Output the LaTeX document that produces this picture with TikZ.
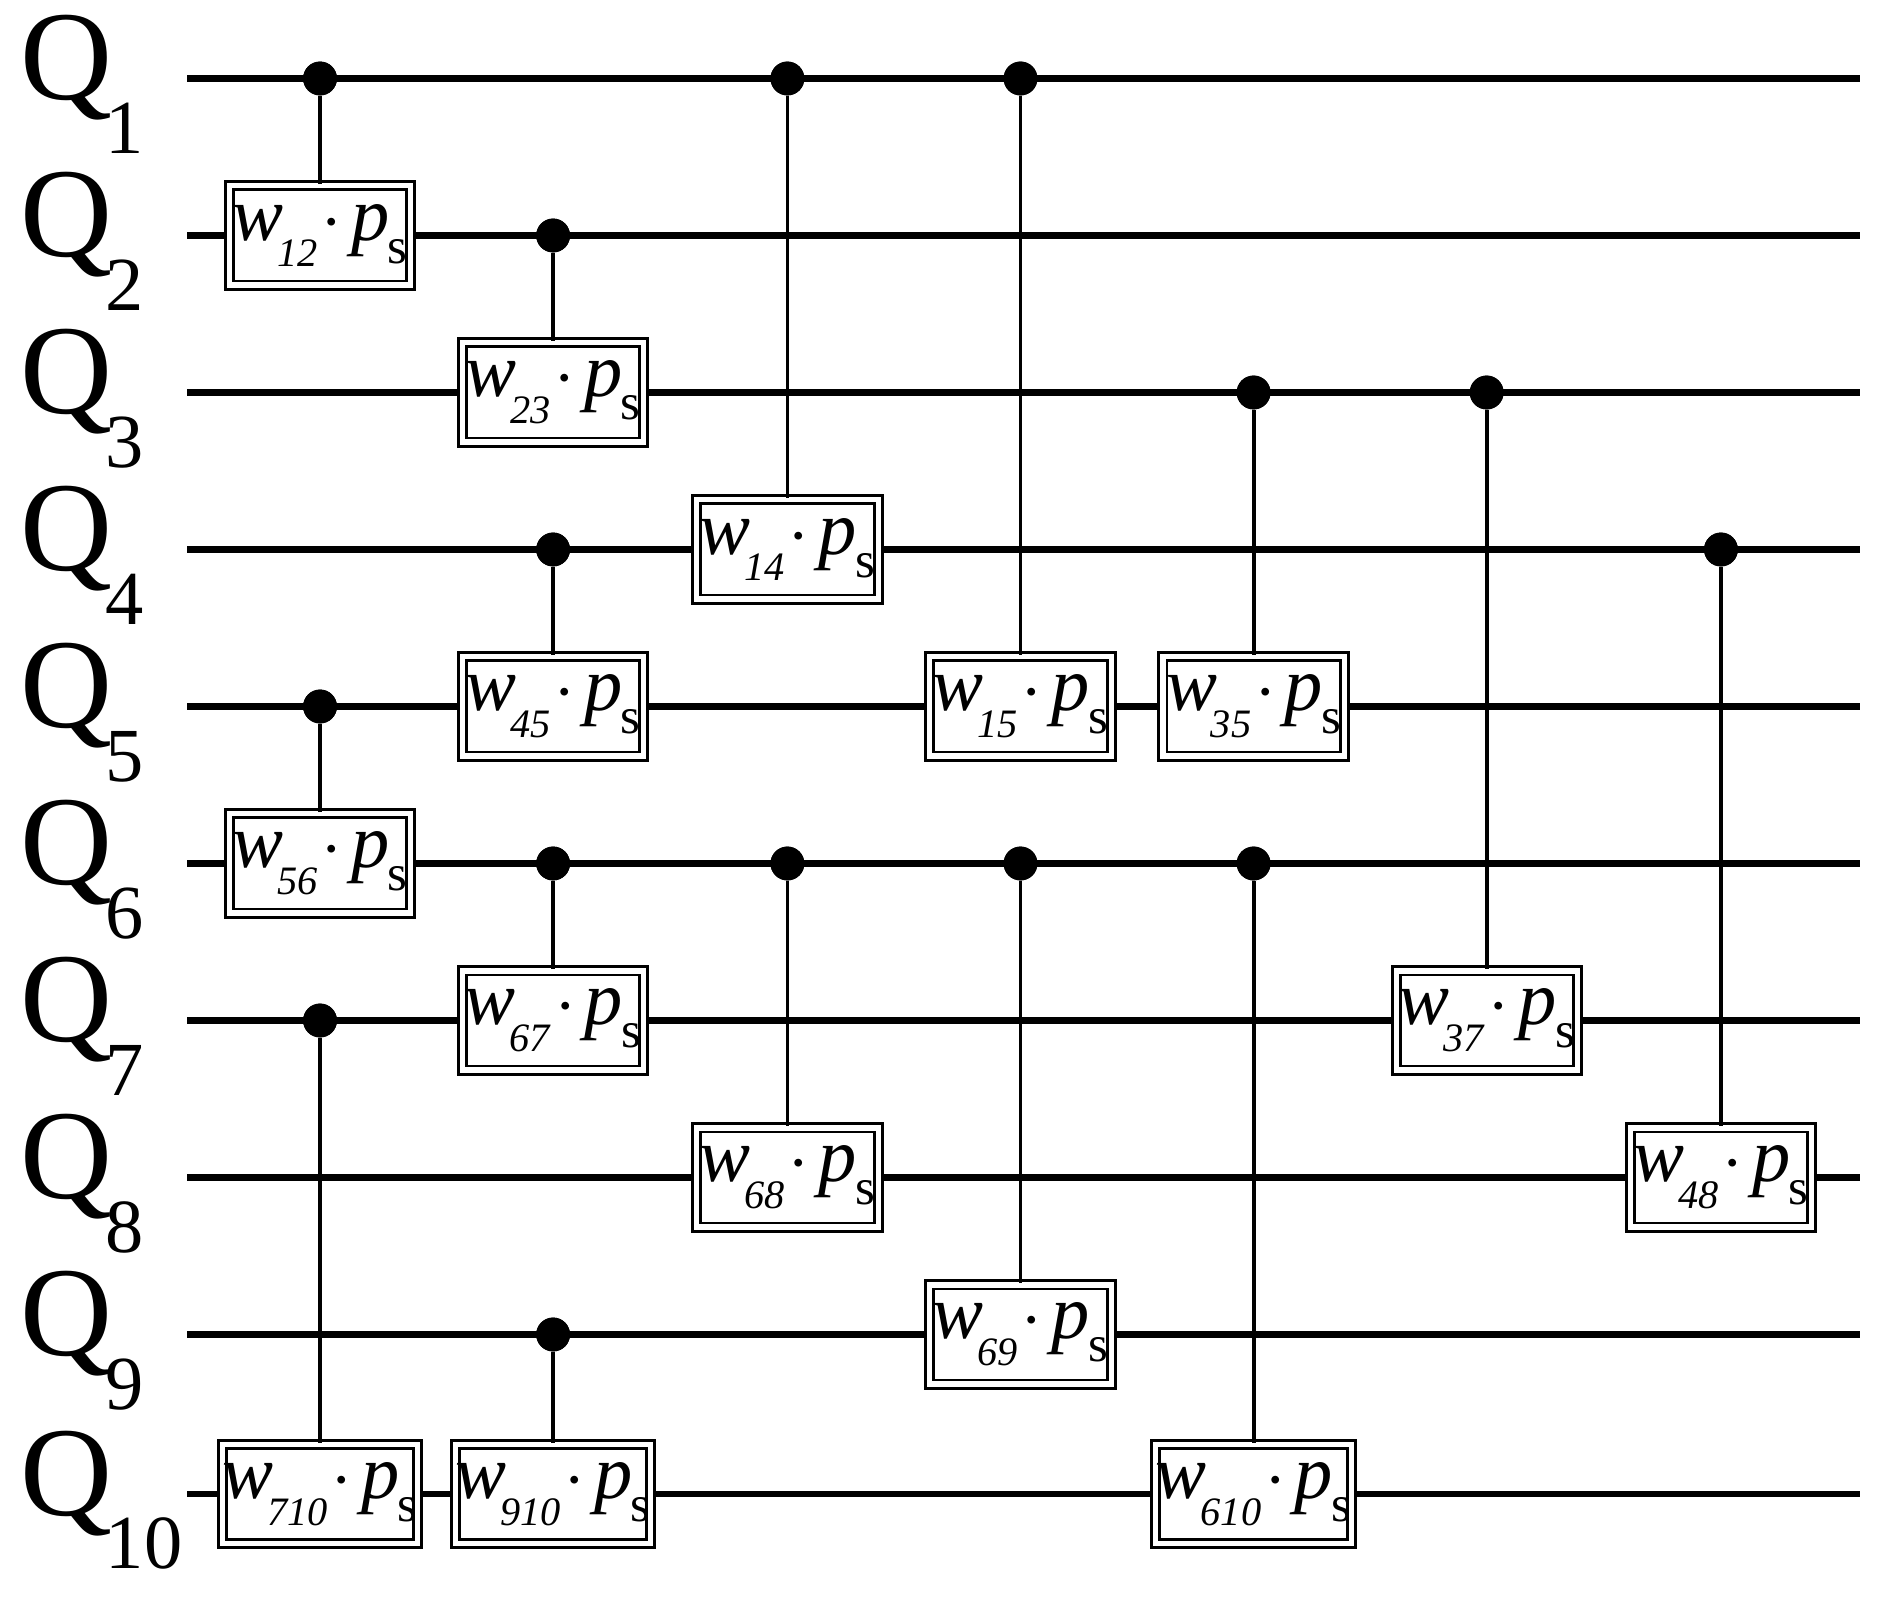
\documentclass[tikz,border=0pt]{standalone}
\usepackage{fontspec}
\setmainfont{Liberation Serif}
\begin{document}
\begin{tikzpicture}[x=0.01cm,y=-0.01cm,
 wire/.style={line width=1.6pt},
 vline/.style={line width=0.9pt},
 gate/.style={draw=black,double=white,double distance=1.2pt,line width=0.7pt,fill=white,minimum width=1.5cm,minimum height=0.82cm,inner sep=0pt,font=\fontsize{18}{20}\selectfont},
 ctrl/.style={circle,fill=black,minimum size=0.28cm,inner sep=0pt},
 qlab/.style={font=\fontsize{30}{32}\selectfont,anchor=west}]
\useasboundingbox (0,0) rectangle (1560,1325);
\foreach \i/\y in {1/65,2/195,3/325,4/455,5/585,6/715,7/845,8/975,9/1105,10/1237}{
  \coordinate (L\i) at (155,\y); \coordinate (R\i) at (1540,\y);
  \draw[wire] (L\i) -- (R\i);
  \node[qlab,inner sep=0pt] (q\i) at (16,\y+5) {Q\kern-0.05em\raisebox{-0.42em}{\fontsize{18}{18}\selectfont\i}};
}
\newcommand\gt[5]{%
  \node[ctrl] (c#1) at (#2,#3) {};
  \node[gate] (g#1) at (#2,#4) {\textit{w}\kern-0.08em\raisebox{-0.35em}{\fontsize{9.5}{10}\selectfont\textit{#5}}\kern0.05em$\cdot$\kern0.12em\textit{p}\kern-0.02em\raisebox{-0.3em}{\fontsize{12}{12}\selectfont s}};
  \draw[vline] (c#1) -- (g#1);
  \node[ctrl] at (c#1) {};
}
\gt{12}{265}{65}{195}{12}
\gt{56}{265}{585}{715}{56}
\gt{710}{265}{845}{1237}{710}
\gt{23}{458}{195}{325}{23}
\gt{45}{458}{455}{585}{45}
\gt{67}{458}{715}{845}{67}
\gt{910}{458}{1105}{1237}{910}
\gt{14}{652}{65}{455}{14}
\gt{68}{652}{715}{975}{68}
\gt{15}{845}{65}{585}{15}
\gt{69}{845}{715}{1105}{69}
\gt{35}{1038}{325}{585}{35}
\gt{610}{1038}{715}{1237}{610}
\gt{37}{1231}{325}{845}{37}
\gt{48}{1425}{455}{975}{48}
\end{tikzpicture}
\end{document}
